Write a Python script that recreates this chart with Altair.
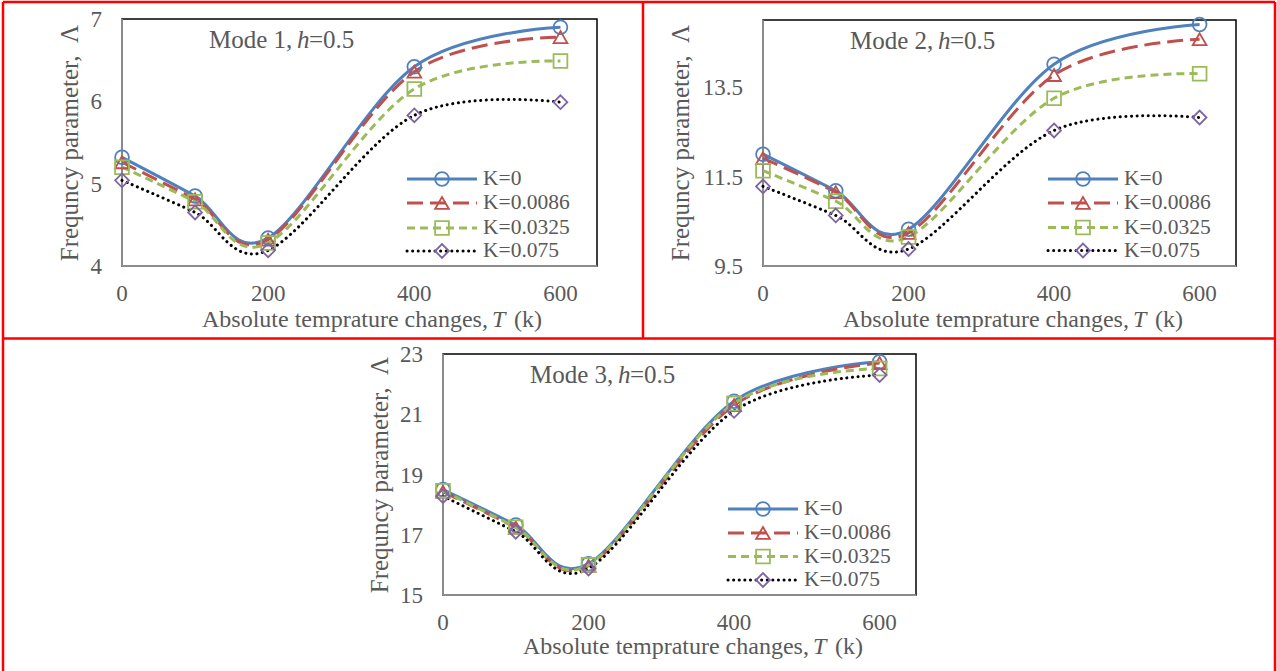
import altair as alt
import pandas as pd

# ---------------- data ----------------
T = [0, 100, 200, 400, 600]
SERIES = ["K=0", "K=0.0086", "K=0.0325", "K=0.075"]

mode1_k0 = [5.32, 4.85, 4.34, 6.42, 6.90]
mode1_k0086 = [5.26, 4.81, 4.32, 6.36, 6.78]
mode1_k0325 = [5.20, 4.78, 4.28, 6.15, 6.49]
mode1_k075 = [5.04, 4.65, 4.19, 5.83, 5.99]

mode2_k0 = [12.00, 11.18, 10.32, 14.01, 14.90]
mode2_k0086 = [11.91, 11.15, 10.24, 13.77, 14.57]
mode2_k0325 = [11.63, 10.95, 10.15, 13.25, 13.80]
mode2_k075 = [11.28, 10.63, 9.88, 12.53, 12.82]

mode3_k0 = [18.50, 17.32, 16.04, 21.43, 22.74]
mode3_k0086 = [18.43, 17.24, 15.97, 21.30, 22.70]
mode3_k0325 = [18.46, 17.25, 16.00, 21.36, 22.52]
mode3_k075 = [18.28, 17.10, 15.88, 21.11, 22.30]

X_TICKS = [0, 200, 400, 600]
Y1_TICKS = [4, 5, 6, 7]
Y2_TICKS = [9.5, 11.5, 13.5]
Y3_TICKS = [15, 17, 19, 21, 23]
X_DOMAIN = [0, 650]

# ---------------- styling / layout ----------------
W, H = 1277, 671
FONT = "Liberation Serif"
GREY = "#595959"
AXIS_GREY = "#A6A6A6"
RED = "#FF0000"
STYLES = [
    dict(color="#4F81BD", dash=None, shape="circle", mcolor="#4F81BD", cap="butt"),
    dict(color="#C0504D", dash=[16, 7], shape="triangle-up", mcolor="#C0504D", cap="butt"),
    dict(color="#9BBB59", dash=[8, 5], shape="square", mcolor="#9BBB59", cap="butt"),
    dict(color="#000000", dash=[0.1, 5.5], shape="diamond", mcolor="#8064A2", cap="round"),
]
LINE_W = 3
MSIZE = 190
ONE = alt.Data(values=[{"a": 1}])

# panel boxes: plot-area left, top, width, height (pixels of the page)
PANELS = [
    dict(x0=122, y0=19, w=475, h=247, ydom=[4, 7], yticks=Y1_TICKS, yfmt="d", mode=1,
         series=[mode1_k0, mode1_k0086, mode1_k0325, mode1_k075],
         legend=[179, 203, 228, 251], ytitle=(70, 143), xt_base=327),
    dict(x0=763, y0=20, w=473, h=246, ydom=[9.5, 15], yticks=Y2_TICKS, yfmt=".1f", mode=2,
         series=[mode2_k0, mode2_k0086, mode2_k0325, mode2_k075],
         legend=[179, 203, 227.5, 250.5], ytitle=(681, 143), xt_base=327),
    dict(x0=443, y0=354, w=473, h=241, ydom=[15, 23], yticks=Y3_TICKS, yfmt="d", mode=3,
         series=[mode3_k0, mode3_k0086, mode3_k0325, mode3_k075],
         legend=[509, 533, 556.5, 580], ytitle=(380, 475), xt_base=654),
]


def line_kwargs(st):
    kw = dict(color=st["color"], strokeWidth=LINE_W, strokeCap=st["cap"])
    if st["dash"] is not None:
        kw["strokeDash"] = st["dash"]
    return kw


def hrule(x1, x2, y, color, width):
    return alt.Chart(ONE).mark_rule(color=color, strokeWidth=width).encode(
        x=alt.value(x1), x2=alt.value(x2), y=alt.value(y))


def vrule(x, y1, y2, color, width):
    return alt.Chart(ONE).mark_rule(color=color, strokeWidth=width).encode(
        x=alt.value(x), y=alt.value(y1), y2=alt.value(y2))


def text(x, y, s, size, italic=False, align="left", baseline="alphabetic", angle=0):
    return alt.Chart(ONE).mark_text(
        font=FONT, fontSize=size, color=GREY, align=align, baseline=baseline,
        fontStyle="italic" if italic else "normal", angle=angle,
    ).encode(x=alt.value(x), y=alt.value(y), text=alt.value(s))


def panel_layers(p):
    x0, y0, w, h = p["x0"], p["y0"], p["w"], p["h"]
    xs = alt.Scale(domain=X_DOMAIN, range=[x0, x0 + w], nice=False, zero=False)
    ys = alt.Scale(domain=p["ydom"], range=[y0 + h, y0], nice=False, zero=False)
    xenc = alt.X("T:Q", scale=xs, axis=None)
    yenc = alt.Y("v:Q", scale=ys, axis=None)
    L = []
    # plot frame (black) and value/category axis lines (grey)
    L.append(alt.Chart(ONE).mark_rect(fill="#FFFFFF", fillOpacity=0, stroke="#000000",
                                      strokeWidth=1.5)
             .encode(x=alt.value(x0), x2=alt.value(x0 + w), y=alt.value(y0), y2=alt.value(y0 + h)))
    L.append(vrule(x0, y0, y0 + h, AXIS_GREY, 1.5))
    L.append(hrule(x0, x0 + w, y0 + h, AXIS_GREY, 1.5))
    # tick labels through the panel scales
    L.append(alt.Chart(pd.DataFrame({"T": X_TICKS})).mark_text(
        font=FONT, fontSize=23, color=GREY, align="center", baseline="alphabetic")
        .encode(x=xenc, y=alt.value(y0 + h + 35), text=alt.Text("T:Q", format="d")))
    L.append(alt.Chart(pd.DataFrame({"v": p["yticks"]})).mark_text(
        font=FONT, fontSize=23, color=GREY, align="right", baseline="alphabetic", dy=8)
        .encode(x=alt.value(x0 - 20), y=yenc, text=alt.Text("v:Q", format=p["yfmt"])))
    # series
    for vals, st in zip(p["series"], STYLES):
        df = pd.DataFrame({"T": T, "v": vals})
        L.append(alt.Chart(df).mark_line(interpolate="cardinal", **line_kwargs(st))
                 .encode(x=xenc, y=yenc))
    for vals, st in zip(p["series"], STYLES):
        df = pd.DataFrame({"T": T, "v": vals})
        L.append(alt.Chart(df).mark_point(shape=st["shape"], size=MSIZE, filled=False,
                                           strokeWidth=1.8, color=st["mcolor"], opacity=1)
                 .encode(x=xenc, y=yenc))
    # legend, spreadsheet style
    for name, st, ly in zip(SERIES, STYLES, p["legend"]):
        L.append(alt.Chart(ONE).mark_rule(**line_kwargs(st))
                 .encode(x=alt.value(x0 + 285), x2=alt.value(x0 + 355), y=alt.value(ly)))
        L.append(alt.Chart(ONE).mark_point(shape=st["shape"], size=MSIZE, filled=False,
                                            strokeWidth=1.8, color=st["mcolor"], opacity=1)
                 .encode(x=alt.value(x0 + 320), y=alt.value(ly)))
        L.append(text(x0 + 361, ly, name, 21.5, baseline="middle"))
    # in-plot label
    L.append(text(x0 + 87, y0 + 29, "Mode %d," % p["mode"], 25))
    L.append(text(x0 + 175, y0 + 29, "h", 25, italic=True))
    L.append(text(x0 + 187, y0 + 29, "=0.5", 25))
    # axis titles
    L.append(text(x0 + 80, p["xt_base"], "Absolute temprature changes,", 24))
    L.append(text(x0 + 370, p["xt_base"], "T", 24, italic=True))
    L.append(text(x0 + 392, p["xt_base"], "(k)", 24))
    tx, ty = p["ytitle"]
    L.append(text(tx, ty, "Frequncy parameter,\u00a0\u00a0\u039b", 25, align="center",
                  baseline="middle", angle=270))
    return L


layers = []
for p in PANELS:
    layers.extend(panel_layers(p))

# red table borders
layers.append(hrule(3, 1275, 2, RED, 2.5))
layers.append(hrule(3, 1275, 338.5, RED, 2.5))
layers.append(vrule(3, 2, 671, RED, 2.5))
layers.append(vrule(643, 2, 338.5, RED, 2.5))
layers.append(vrule(1275, 2, 671, RED, 2.5))

chart = (
    alt.layer(*layers)
    .resolve_scale(x="independent", y="independent")
    .properties(width=W, height=H, padding=0, background="white",
                autosize=alt.AutoSizeParams(type="none"))
    .configure_view(strokeWidth=0)
)

chart.save("out.html", embed_options={"renderer": "svg", "actions": False})
